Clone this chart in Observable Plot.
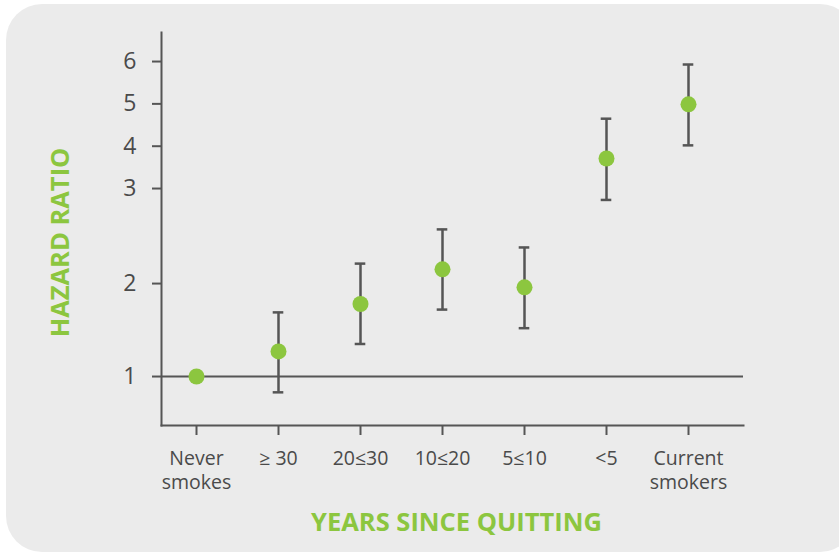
<!DOCTYPE html>
<html>
<head>
<meta charset="utf-8">
<script src="https://cdn.jsdelivr.net/npm/d3@7"></script>
<script src="https://cdn.jsdelivr.net/npm/@observablehq/plot@0.6"></script>
<style>
  html, body { margin: 0; padding: 0; background: #ffffff; }
  #bg { position: absolute; left: 6px; top: 4px; width: 850px; height: 548px; background: #ebebeb; border-radius: 36px; }
  #chart { position: absolute; left: 0; top: 0; }
  #chart svg { background: transparent; overflow: visible; }
</style>
</head>
<body>
<div id="bg"></div>
<div id="chart"></div>
<script>
const categories = ["Never\nsmokes", "≥ 30", "20≤30", "10≤20", "5≤10", "<5", "Current\nsmokers"];
const hazard = [1.0, 1.27, 1.78, 2.15, 1.96, 3.71, 4.99];
const lower  = [null, 0.83, 1.35, 1.72, 1.52, 2.88, 4.02];
const upper  = [null, 1.69, 2.21, 2.57, 2.38, 4.65, 5.93];
const yTicks = [1, 2, 3, 4, 5, 6];

// The original axis is piecewise: 1–3 evenly spaced, 3–6 compressed.
const warp = d3.scaleLinear().domain([1, 2, 3, 6]).range([1, 1.989, 3, 4.351]);

const rows = categories.map((c, i) => ({cat: c, hr: warp(hazard[i]), lo: lower[i] == null ? null : warp(lower[i]), hi: upper[i] == null ? null : warp(upper[i])}));
const bars = rows.filter(d => d.lo != null);

const green = "#8cc63f";
const ink = "#555555";
const font = "'Open Sans', sans-serif";

const chart = Plot.plot({
  width: 839,
  height: 555,
  marginLeft: 161,
  marginRight: 96,
  marginTop: 32,
  marginBottom: 130,
  style: {fontFamily: font, color: "#4a4a4a", background: "transparent"},
  x: {type: "band", domain: categories, range: [153.8, 730.2], padding: 0, axis: null},
  y: {domain: [0.479, 4.66], axis: null},
  marks: [
    Plot.frame({anchor: "left", stroke: ink, strokeWidth: 2}),
    Plot.frame({anchor: "bottom", stroke: ink, strokeWidth: 2}),
    Plot.ruleY([warp(1)], {stroke: ink, strokeWidth: 2}),
    Plot.axisY({ticks: yTicks.map(warp), tickSize: 9, tickPadding: 16, fontSize: 23, stroke: ink, strokeWidth: 2, label: null, tickFormat: d => String(Math.round(warp.invert(d)))}),
    Plot.axisX({tickSize: 10, tickPadding: 12, fontSize: 19.5, lineHeight: 1.25, stroke: ink, strokeWidth: 2, label: null}),
    Plot.ruleX(bars, {x: "cat", y1: "lo", y2: "hi", stroke: ink, strokeWidth: 2.5}),
    Plot.tickY(bars, {x: "cat", y: "lo", stroke: ink, strokeWidth: 2.5, insetLeft: 35.7, insetRight: 35.7}),
    Plot.tickY(bars, {x: "cat", y: "hi", stroke: ink, strokeWidth: 2.5, insetLeft: 35.7, insetRight: 35.7}),
    Plot.dot(rows, {x: "cat", y: "hr", r: 8, fill: green, stroke: "none"}),
    Plot.text(["HAZARD RATIO"], {frameAnchor: "left", textAnchor: "middle", dx: -101, dy: 13.5, rotate: -90, fill: green, fontSize: 25.5, fontWeight: "bold"}),
    Plot.text(["YEARS SINCE QUITTING"], {frameAnchor: "bottom", textAnchor: "middle", dx: 4, dy: 105, fill: green, fontSize: 25.5, fontWeight: "bold"})
  ]
});
document.getElementById("chart").append(chart);
</script>
</body>
</html>
